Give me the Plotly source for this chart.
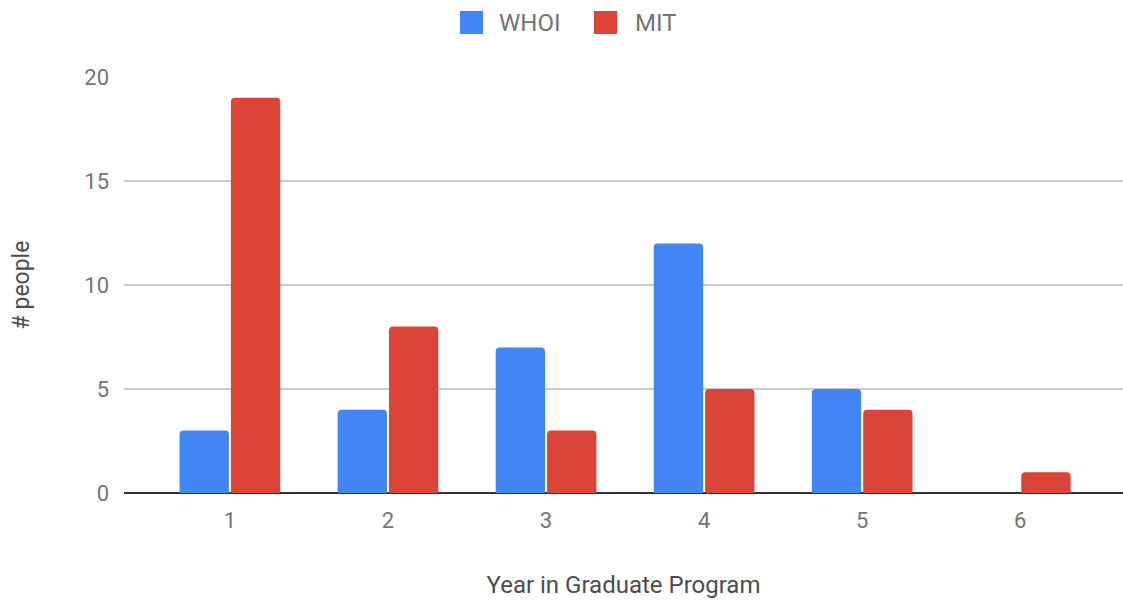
import plotly.graph_objects as go

years = [1, 2, 3, 4, 5, 6]
whoi = [3, 4, 7, 12, 5, 0]
mit = [19, 8, 3, 5, 4, 1]
y_ticks = [0, 5, 10, 15, 20]
series_names = ["WHOI", "MIT"]

BLUE = "#4285F4"
RED = "#DB4437"
GRAY = "#757575"
DARK = "#4d4d4d"
FONT = "Roboto"

L, R, T, B = 124, 0, 77, 109
W, H = 1123, 602
PW, PH = W - L - R, H - T - B

fig = go.Figure()
fig.add_trace(go.Bar(x=years, y=whoi, name=series_names[0],
                     marker=dict(color=BLUE, cornerradius=4, line=dict(width=0))))
fig.add_trace(go.Bar(x=years, y=mit, name=series_names[1],
                     marker=dict(color=RED, cornerradius=4, line=dict(width=0))))


def px_x(x):
    return (x - L) / PW


def px_y(y):
    return (H - B - y) / PH


# legend drawn at the top centre
legend_items = [(series_names[0], BLUE, 460, 497), (series_names[1], RED, 594, 633)]
for name, col, sx, tx in legend_items:
    fig.add_shape(type="rect", xref="paper", yref="paper",
                  x0=px_x(sx), x1=px_x(sx + 23), y0=px_y(34), y1=px_y(11),
                  fillcolor=col, line=dict(width=0), layer="above")
    fig.add_annotation(xref="paper", yref="paper", x=px_x(tx), y=px_y(23),
                       xanchor="left", yanchor="middle", text=name, showarrow=False,
                       font=dict(family=FONT, size=24, color=GRAY))

fig.update_layout(
    width=W, height=H,
    margin=dict(l=L, r=R, t=T, b=B, autoexpand=False),
    paper_bgcolor="white", plot_bgcolor="white",
    font=dict(family=FONT, color=GRAY, size=22),
    barmode="group", bargap=0.35, bargroupgap=0.04,
    showlegend=False,
)
fig.update_xaxes(range=[0.33, 6.65], tickvals=years, ticktext=[str(v) for v in years],
                 showgrid=False, zeroline=False, showline=False, ticks="",
                 tickfont=dict(size=22, color=GRAY), automargin=False, ticklabelstandoff=12,
                 title=dict(text="Year in Graduate Program", font=dict(size=24, color=DARK),
                            standoff=44))
fig.update_yaxes(range=[0, 20], tickvals=y_ticks, showgrid=True, gridcolor="#CCCCCC",
                 gridwidth=1.5, zeroline=True, zerolinecolor="#333333", zerolinewidth=2,
                 ticks="", tickfont=dict(size=22, color=GRAY), ticklabelstandoff=14,
                 automargin=False,
                 title=dict(text="# people", font=dict(size=23, color=DARK), standoff=48))

fig.write_html("out.html", config={"displayModeBar": False},
               post_script="document.body.style.margin='0';")
